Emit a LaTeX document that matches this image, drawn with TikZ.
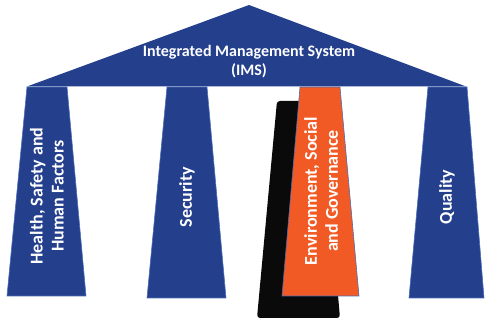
\documentclass[tikz,border=0pt]{standalone}
\usepackage{fontspec}
\setmainfont{Carlito}
\definecolor{imsblue}{HTML}{243F8C}
\definecolor{imsedge}{HTML}{4A6DB5}
\definecolor{imsorange}{HTML}{F15A24}
\definecolor{imsblack}{HTML}{0A0A0A}
\tikzset{
  pillar/.style={fill=imsblue, draw=imsedge, line width=0.6pt},
  ptext/.style={text=white, font=\fontsize{18}{21}\selectfont\bfseries, rotate=90, align=center, inner sep=0pt},
}
\begin{document}
\begin{tikzpicture}[x=1pt,y=-1pt]
\useasboundingbox (0,0) rectangle (485,320);
% black shadow
\fill[imsblack, rounded corners=3pt] (277,101) -- (321,101) -- (340,318) -- (257,318) -- cycle;
% roof
\fill[imsblue] (27,86.5) -- (249,5) -- (466,86.5) -- cycle;
% pillars
\path[pillar] (27,87) -- (67,87) -- (86,296) -- (7,296) -- cycle;
\path[pillar] (167,87) -- (207,87) -- (226,298) -- (147,298) -- cycle;
\path[fill=imsorange, draw=imsedge, line width=0.6pt] (300,87) -- (340,87) -- (359,296) -- (282,296) -- cycle;
\path[pillar] (428,87) -- (467,87) -- (484,298) -- (409,298) -- cycle;
% roof text
\node[text=white, font=\fontsize{16}{19}\selectfont\bfseries, align=center, inner sep=0pt] (roof) at (249,62) {Integrated Management System\\(IMS)};
\node[ptext] (hs) at (47,196) {Health, Safety and\\Human Factors};
\node[ptext] (sec) at (187,197) {Security};
\node[ptext] (env) at (321,191) {Environment, Social\\and Governance};
\node[ptext] (qual) at (447,197) {Quality};
\end{tikzpicture}
\end{document}
